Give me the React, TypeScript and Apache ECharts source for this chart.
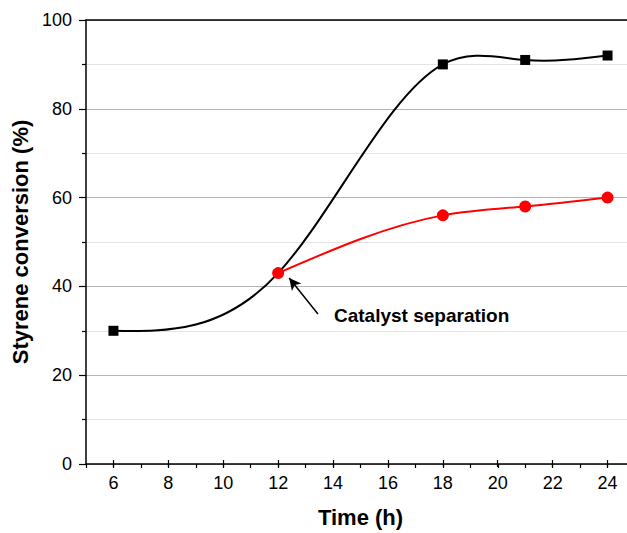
import React, { useEffect, useRef } from "react";
import * as echarts from "echarts";

const timeBlack = [6, 12, 18, 21, 24];
const convBlack = [30, 43, 90, 91, 92];
const timeRed = [12, 18, 21, 24];
const convRed = [43, 56, 58, 60];
const yTicks = [0, 20, 40, 60, 80, 100];
const annotationText = "Catalyst separation";
const xTitle = "Time (h)";
const yTitle = "Styrene conversion (%)";

const FONT = "'Liberation Sans', Arial, sans-serif";

// Knot derivatives of a natural cubic spline (used to draw the curve as Bezier segments)
function splineSlopes(xs: number[], ys: number[]): number[] {
  const n = xs.length;
  const h: number[] = [];
  const s: number[] = [];
  for (let i = 0; i < n - 1; i++) {
    h.push(xs[i + 1] - xs[i]);
    s.push((ys[i + 1] - ys[i]) / h[i]);
  }
  const M = new Array(n).fill(0);
  const m = n - 2;
  if (m > 0) {
    const a: number[] = [], b: number[] = [], c: number[] = [], d: number[] = [];
    for (let k = 0; k < m; k++) {
      const i = k + 1;
      a.push(h[i - 1]);
      b.push(2 * (h[i - 1] + h[i]));
      c.push(h[i]);
      d.push(6 * (s[i] - s[i - 1]));
    }
    for (let k = 1; k < m; k++) {
      const w = a[k] / b[k - 1];
      b[k] -= w * c[k - 1];
      d[k] -= w * d[k - 1];
    }
    const sol = new Array(m).fill(0);
    sol[m - 1] = d[m - 1] / b[m - 1];
    for (let k = m - 2; k >= 0; k--) sol[k] = (d[k] - c[k] * sol[k + 1]) / b[k];
    for (let k = 0; k < m; k++) M[k + 1] = sol[k];
  }
  const der: number[] = [];
  for (let i = 0; i < n - 1; i++) der.push(s[i] - (h[i] * (2 * M[i] + M[i + 1])) / 6);
  der.push(s[n - 2] + (h[n - 2] * (M[n - 2] + 2 * M[n - 1])) / 6);
  return der;
}

function curveSeries(xs: number[], ys: number[], color: string, z: number) {
  const der = splineSlopes(xs, ys);
  const segs = xs.slice(0, -1).map((x, i) => [x, ys[i], xs[i + 1], ys[i + 1], der[i], der[i + 1]]);
  return {
    type: "custom",
    xAxisIndex: 0,
    yAxisIndex: 0,
    z,
    silent: true,
    encode: { x: [0, 2], y: [1, 3] },
    data: segs,
    renderItem: (params: any, api: any) => {
      const x0 = api.value(0), y0 = api.value(1), x1 = api.value(2), y1 = api.value(3);
      const d0 = api.value(4), d1 = api.value(5);
      const hh = (x1 - x0) / 3;
      const p0 = api.coord([x0, y0]);
      const c0 = api.coord([x0 + hh, y0 + d0 * hh]);
      const c1 = api.coord([x1 - hh, y1 - d1 * hh]);
      const p1 = api.coord([x1, y1]);
      return {
        type: "bezierCurve",
        shape: {
          x1: p0[0], y1: p0[1], x2: p1[0], y2: p1[1],
          cpx1: c0[0], cpy1: c0[1], cpx2: c1[0], cpy2: c1[1],
        },
        style: { stroke: color, lineWidth: 2, fill: null },
      };
    },
  };
}

export default function App() {
  const ref = useRef<HTMLDivElement>(null);
  useEffect(() => {
    if (!ref.current) return;
    const chart = echarts.init(ref.current, undefined, { renderer: "svg" });
    const W = 660;
    const left = 86;
    const plotW = 549;
    const unit = plotW / 20;
    const option: any = {
      animation: false,
      backgroundColor: "#fff",
      textStyle: { fontFamily: FONT },
      grid: [
        { left: left, right: W - (left + plotW), top: 20, bottom: 69 },
        { left: left + unit, right: W - (left + 19 * unit), top: 20, bottom: 69 },
      ],
      xAxis: [
        {
          type: "value",
          gridIndex: 0,
          min: 5,
          max: 25,
          interval: 1,
          axisLine: { show: true, onZero: false, lineStyle: { color: "#000", width: 1.5 } },
          axisTick: { show: true, length: 4, lineStyle: { color: "#000", width: 1.2 } },
          axisLabel: { show: false },
          splitLine: { show: false },
        },
        {
          type: "value",
          gridIndex: 1,
          min: 6,
          max: 24,
          interval: 2,
          axisLine: { show: false, onZero: false },
          axisTick: { show: true, length: 7, lineStyle: { color: "#000", width: 1.2 } },
          axisLabel: { show: true, fontSize: 18, color: "#000", margin: 14, fontFamily: FONT },
          splitLine: { show: false },
          name: xTitle,
          nameLocation: "middle",
          nameGap: 46,
          nameTextStyle: { fontSize: 22, fontWeight: "bold", color: "#000", fontFamily: FONT },
        },
        {
          type: "value",
          gridIndex: 0,
          position: "top",
          min: 5,
          max: 25,
          axisLine: { show: true, onZero: false, lineStyle: { color: "#000", width: 1.5 } },
          axisTick: { show: false },
          axisLabel: { show: false },
          splitLine: { show: false },
        },
      ],
      yAxis: [
        {
          type: "value",
          gridIndex: 0,
          min: yTicks[0],
          max: yTicks[yTicks.length - 1],
          interval: 20,
          axisLine: { show: true, onZero: false, lineStyle: { color: "#000", width: 1.5 } },
          axisTick: { show: true, length: 7, lineStyle: { color: "#000", width: 1.2 } },
          minorTick: { show: true, splitNumber: 2, length: 4, lineStyle: { color: "#000", width: 1.2 } },
          axisLabel: { show: true, fontSize: 18, color: "#000", margin: 14, fontFamily: FONT },
          splitLine: { show: true, lineStyle: { color: "#b4b4b4", width: 1.2 } },
          minorSplitLine: { show: true, lineStyle: { color: "#e4e4e4", width: 1 } },
          name: yTitle,
          nameLocation: "middle",
          nameGap: 49,
          nameTextStyle: { fontSize: 22, fontWeight: "bold", color: "#000", fontFamily: FONT },
        },
        {
          type: "value",
          gridIndex: 1,
          min: 0,
          max: 100,
          show: false,
        },
      ],
      series: [
        curveSeries(timeBlack, convBlack, "#000", 2),
        {
          type: "scatter",
          xAxisIndex: 0,
          yAxisIndex: 0,
          data: timeBlack
            .map((t, i) => [t, convBlack[i]])
            .filter(([t, v]) => !(timeRed.includes(t) && convRed[timeRed.indexOf(t)] === v)),
          symbol: "rect",
          symbolSize: 10,
          itemStyle: { color: "#000", opacity: 1 },
          z: 3,
        },
        curveSeries(timeRed, convRed, "#ff0000", 4),
        {
          type: "scatter",
          xAxisIndex: 0,
          yAxisIndex: 0,
          data: timeRed.map((t, i) => [t, convRed[i]]),
          symbol: "circle",
          symbolSize: 12,
          itemStyle: { color: "#ff0000", opacity: 1 },
          z: 5,
          markLine: {
            silent: true,
            animation: false,
            label: { show: false },
            lineStyle: { color: "#000", width: 1.5, type: "solid", opacity: 1 },
            data: [
              [
                { coord: [13.45, 33.8], symbol: "none" },
                { coord: [12.4, 41.9], symbol: "arrow", symbolSize: [9, 12] },
              ],
            ],
          },
        },
      ],
      graphic: [
        {
          type: "text",
          left: 334,
          top: 306,
          style: {
            text: annotationText,
            font: `bold 19px ${FONT}`,
            fill: "#000",
          },
        },
      ],
    };
    chart.setOption(option);
    return () => chart.dispose();
  }, []);
  return (
    <div
      style={{ position: "fixed", left: 0, top: 0, width: 627, height: 533, overflow: "hidden", background: "#fff" }}
    >
      <div ref={ref} style={{ width: 660, height: 533 }} />
    </div>
  );
}
